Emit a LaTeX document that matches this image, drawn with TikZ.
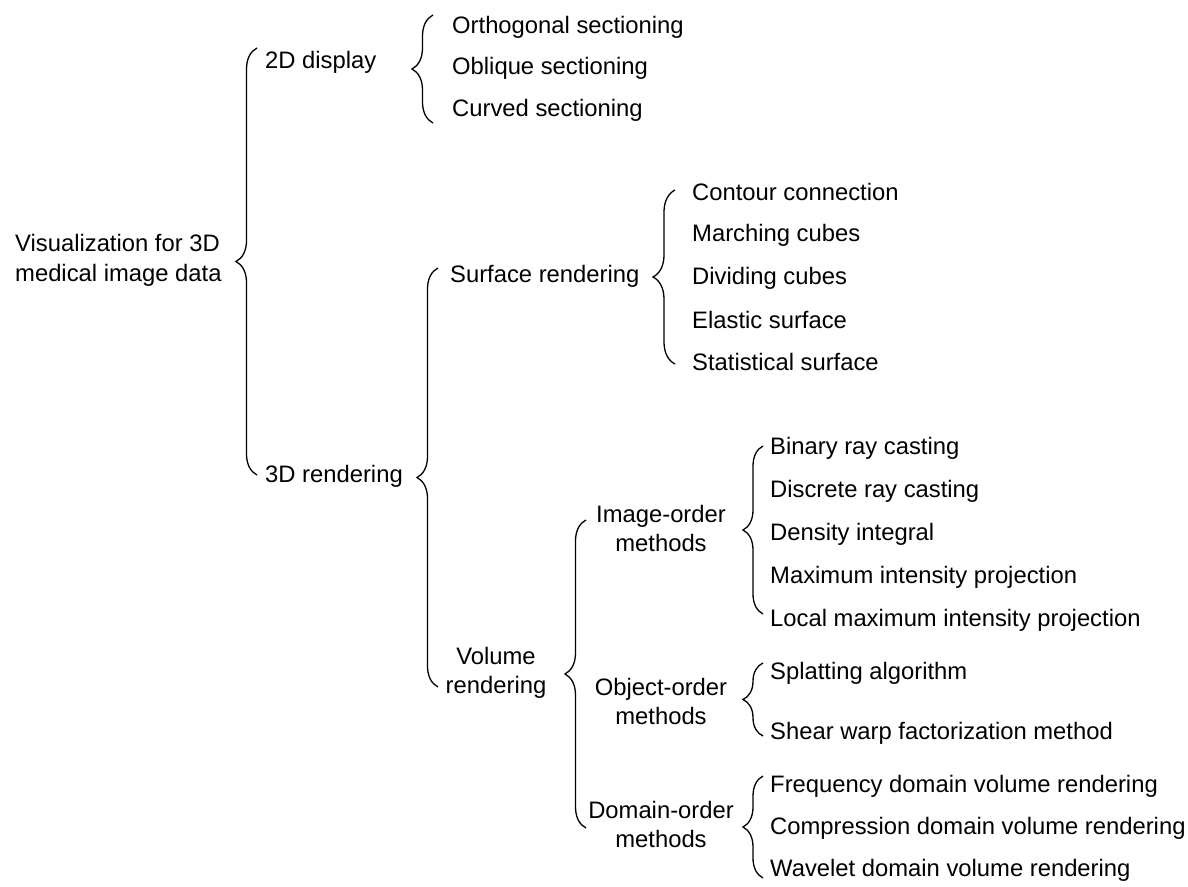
\documentclass[tikz,border=0pt]{standalone}
\usepackage{fontspec}
\setmainfont{Liberation Sans}
\usetikzlibrary{decorations.pathreplacing}
\begin{document}
\begin{tikzpicture}[x=1pt,y=-1pt,
  txt/.style={inner sep=0pt, anchor=west, font=\fontsize{23.8}{29}\selectfont, text=black},
  mtxt/.style={inner sep=0pt, align=center, font=\fontsize{23.8}{29}\selectfont, text=black},
  brc/.style={decorate, decoration={brace, amplitude=#1}, line width=1.3pt, draw=black},
  brc/.default=21pt]
\useasboundingbox (0,0) rectangle (1188,886);
% root
\node[txt, align=left, font=\fontsize{23.8}{30}\selectfont] (root) at (15,260) {Visualization for 3D\\medical image data};
% level 1
\node[txt] (d2) at (265,62) {2D display};
\node[txt] (d3) at (265,476) {3D rendering};
\coordinate (b1t) at (257,48);
\coordinate (b1b) at (257,475);
\draw[brc=21pt] (b1b) -- (b1t);
% 2D display
\node[txt] (ortho) at (452,27) {Orthogonal sectioning};
\node[txt] (obl) at (452,68) {Oblique sectioning};
\node[txt] (curv) at (452,110) {Curved sectioning};
\coordinate (b2t) at (433,15);
\coordinate (b2b) at (433,123);
\draw[brc=21pt] (b2b) -- (b2t);
% 3D rendering
\node[txt] (surf) at (450,276) {Surface rendering};
\node[mtxt] (vol) at (496,673) {Volume\\rendering};
\coordinate (b3t) at (438,268);
\coordinate (b3b) at (438,687);
\draw[brc=21pt] (b3b) -- (b3t);
% surface rendering
\node[txt] (cont) at (692,192) {Contour connection};
\node[txt] (march) at (692,235) {Marching cubes};
\node[txt] (divc) at (692,278) {Dividing cubes};
\node[txt] (elas) at (692,320) {Elastic surface};
\node[txt] (stat) at (692,362) {Statistical surface};
\coordinate (b4t) at (675,190);
\coordinate (b4b) at (675,364);
\draw[brc=22pt] (b4b) -- (b4t);
% volume rendering
\node[mtxt] (imgo) at (661,528) {Image-order\\methods};
\node[mtxt] (objo) at (661,701) {Object-order\\methods};
\node[mtxt] (domo) at (661,824) {Domain-order\\methods};
\coordinate (b5t) at (586,520);
\coordinate (b5b) at (586,828);
\draw[brc=21pt] (b5b) -- (b5t);
% image-order
\node[txt] (bin) at (770,448) {Binary ray casting};
\node[txt] (disc) at (770,491) {Discrete ray casting};
\node[txt] (dens) at (770,534) {Density integral};
\node[txt] (mip) at (770,577) {Maximum intensity projection};
\node[txt] (lmip) at (770,620) {Local maximum intensity projection};
\coordinate (b6t) at (763,446);
\coordinate (b6b) at (763,614);
\draw[brc=20pt] (b6b) -- (b6t);
% object-order
\node[txt] (splat) at (770,673) {Splatting algorithm};
\node[txt] (shear) at (770,733) {Shear warp factorization method};
\coordinate (b7t) at (763,663);
\coordinate (b7b) at (763,736);
\draw[brc=20pt] (b7b) -- (b7t);
% domain-order
\node[txt] (freq) at (770,786) {Frequency domain volume rendering};
\node[txt] (comp) at (770,828) {Compression domain volume rendering};
\node[txt] (wave) at (770,870) {Wavelet domain volume rendering};
\coordinate (b8t) at (763,776);
\coordinate (b8b) at (763,878);
\draw[brc=20pt] (b8b) -- (b8t);
\end{tikzpicture}
\end{document}
